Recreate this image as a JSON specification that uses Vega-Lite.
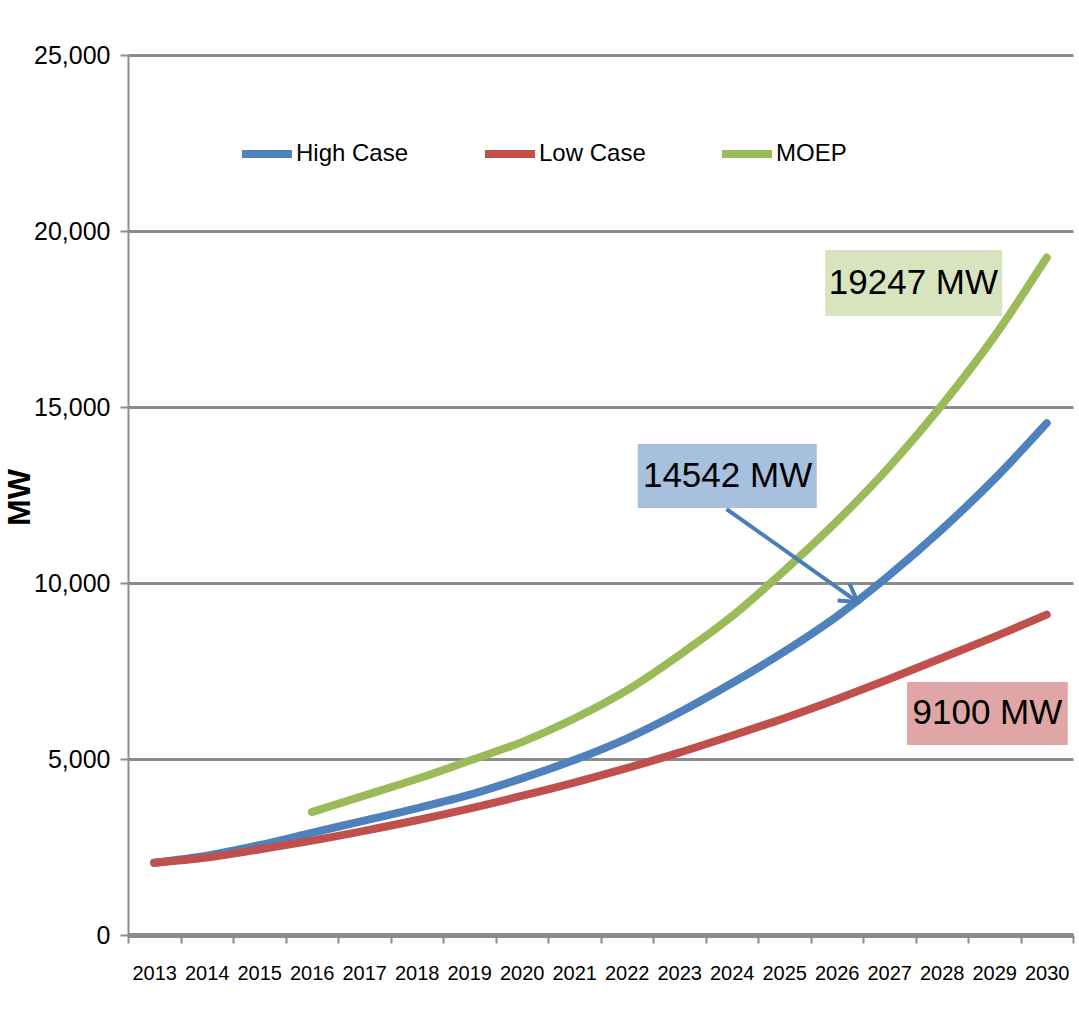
{
  "$schema": "https://vega.github.io/schema/vega-lite/v6.json",
  "width": 945,
  "height": 880,
  "autosize": {"type": "none"},
  "padding": {"left": 128, "top": 55, "right": 6, "bottom": 83},
  "background": "white",
  "config": {
    "view": {"stroke": null},
    "axis": {"domainColor": "#8c8c8c", "tickColor": "#8c8c8c", "gridColor": "#8c8c8c", "labelColor": "#000000"}
  },
  "datasets": {
    "series": [
      {"year": 2013, "series": "High Case", "value": 2050},
      {"year": 2014, "series": "High Case", "value": 2250},
      {"year": 2015, "series": "High Case", "value": 2550},
      {"year": 2016, "series": "High Case", "value": 2900},
      {"year": 2017, "series": "High Case", "value": 3250},
      {"year": 2018, "series": "High Case", "value": 3600},
      {"year": 2019, "series": "High Case", "value": 3980},
      {"year": 2020, "series": "High Case", "value": 4450},
      {"year": 2021, "series": "High Case", "value": 4970},
      {"year": 2022, "series": "High Case", "value": 5580},
      {"year": 2023, "series": "High Case", "value": 6320},
      {"year": 2024, "series": "High Case", "value": 7150},
      {"year": 2025, "series": "High Case", "value": 8050},
      {"year": 2026, "series": "High Case", "value": 9050},
      {"year": 2027, "series": "High Case", "value": 10220},
      {"year": 2028, "series": "High Case", "value": 11520},
      {"year": 2029, "series": "High Case", "value": 12950},
      {"year": 2030, "series": "High Case", "value": 14542},
      {"year": 2013, "series": "Low Case", "value": 2050},
      {"year": 2014, "series": "Low Case", "value": 2200},
      {"year": 2015, "series": "Low Case", "value": 2430},
      {"year": 2016, "series": "Low Case", "value": 2680},
      {"year": 2017, "series": "Low Case", "value": 2960},
      {"year": 2018, "series": "Low Case", "value": 3260},
      {"year": 2019, "series": "Low Case", "value": 3590},
      {"year": 2020, "series": "Low Case", "value": 3950},
      {"year": 2021, "series": "Low Case", "value": 4330},
      {"year": 2022, "series": "Low Case", "value": 4740},
      {"year": 2023, "series": "Low Case", "value": 5180},
      {"year": 2024, "series": "Low Case", "value": 5660},
      {"year": 2025, "series": "Low Case", "value": 6160},
      {"year": 2026, "series": "Low Case", "value": 6700},
      {"year": 2027, "series": "Low Case", "value": 7270},
      {"year": 2028, "series": "Low Case", "value": 7870},
      {"year": 2029, "series": "Low Case", "value": 8470},
      {"year": 2030, "series": "Low Case", "value": 9100},
      {"year": 2016, "series": "MOEP", "value": 3490},
      {"year": 2017, "series": "MOEP", "value": 3960},
      {"year": 2018, "series": "MOEP", "value": 4430},
      {"year": 2019, "series": "MOEP", "value": 4950},
      {"year": 2020, "series": "MOEP", "value": 5480},
      {"year": 2021, "series": "MOEP", "value": 6150},
      {"year": 2022, "series": "MOEP", "value": 6950},
      {"year": 2023, "series": "MOEP", "value": 7950},
      {"year": 2024, "series": "MOEP", "value": 9050},
      {"year": 2025, "series": "MOEP", "value": 10350},
      {"year": 2026, "series": "MOEP", "value": 11750},
      {"year": 2027, "series": "MOEP", "value": 13300},
      {"year": 2028, "series": "MOEP", "value": 15050},
      {"year": 2029, "series": "MOEP", "value": 17000},
      {"year": 2030, "series": "MOEP", "value": 19247}
    ],
    "notes": [
      {"series": "MOEP", "label": "19247 MW", "x1": 2025.78, "x2": 2029.15, "y1": 17585, "y2": 19460, "tx": 2027.46, "ty": 18520},
      {"series": "High Case", "label": "14542 MW", "x1": 2022.21, "x2": 2025.62, "y1": 12131, "y2": 13949, "tx": 2023.92, "ty": 13040},
      {"series": "Low Case", "label": "9100 MW", "x1": 2027.34, "x2": 2030.4, "y1": 5398, "y2": 7188, "tx": 2028.87, "ty": 6293}
    ],
    "arrow": [
      {"xs": 2023.9, "ys": 12102, "xe": 2026.4, "ye": 9460}
    ]
  },
  "layer": [
    {
      "data": {"name": "series"},
      "mark": {"type": "line", "strokeWidth": 8, "interpolate": "monotone", "strokeCap": "round"},
      "encoding": {
        "x": {
          "field": "year", "type": "quantitative",
          "scale": {"domain": [2012.5, 2030.5], "nice": false, "zero": false},
          "axis": {
            "values": [2012.5, 2013.5, 2014.5, 2015.5, 2016.5, 2017.5, 2018.5, 2019.5, 2020.5, 2021.5, 2022.5, 2023.5, 2024.5, 2025.5, 2026.5, 2027.5, 2028.5, 2029.5, 2030.5],
            "labelExpr": "datum.value > 2030 ? '' : format(datum.value + 0.5, 'd')",
            "labelOffset": 26.25,
            "labelOverlap": false,
            "labelBound": false,
            "labelFlush": false,
            "labelFont": "Liberation Sans, Arial, sans-serif",
            "labelFontSize": 20,
            "labelPadding": 20,
            "tickSize": 8,
            "tickWidth": 2,
            "domainWidth": 5,
            "grid": false,
            "title": null
          }
        },
        "y": {
          "field": "value", "type": "quantitative",
          "scale": {"domain": [0, 25000], "nice": false},
          "axis": {
            "values": [0, 5000, 10000, 15000, 20000, 25000],
            "format": ",d",
            "labelFont": "Liberation Sans, Arial, sans-serif",
            "labelFontSize": 25,
            "labelPadding": 10,
            "tickSize": 8,
            "tickWidth": 2,
            "domainWidth": 2,
            "gridWidth": 3,
            "title": "MW",
            "titleFont": "Liberation Sans, Arial, sans-serif",
            "titleFontWeight": "bold",
            "titleFontSize": 32,
            "titleColor": "#000000",
            "titleX": -92,
            "titleY": 442
          }
        },
        "color": {
          "field": "series", "type": "nominal",
          "scale": {"domain": ["High Case", "Low Case", "MOEP"], "range": ["#4F81BD", "#C0504D", "#9BBB59"]},
          "legend": {
            "title": null,
            "orient": "none",
            "direction": "horizontal",
            "legendX": 110,
            "legendY": 70,
            "padding": 0,
            "symbolType": "stroke",
            "symbolSize": 2500,
            "symbolStrokeWidth": 8,
            "labelFont": "Liberation Sans, Arial, sans-serif",
            "labelFontSize": 24,
            "labelColor": "#000000",
            "labelOffset": 0,
            "labelLimit": 300,
            "columnPadding": 60
          }
        }
      }
    },
    {
      "data": {"name": "notes"},
      "mark": {"type": "rect"},
      "encoding": {
        "x": {"field": "x1", "type": "quantitative"},
        "x2": {"field": "x2"},
        "y": {"field": "y1", "type": "quantitative"},
        "y2": {"field": "y2"},
        "fill": {
          "field": "series", "type": "nominal",
          "scale": {"domain": ["High Case", "Low Case", "MOEP"], "range": ["#A7C0DE", "#DFA6A5", "#D7E4BD"]},
          "legend": null
        }
      }
    },
    {
      "data": {"name": "notes"},
      "mark": {"type": "text", "font": "Liberation Sans, Arial, sans-serif", "fontSize": 35, "align": "center", "baseline": "middle", "color": "#000000"},
      "encoding": {
        "x": {"field": "tx", "type": "quantitative"},
        "y": {"field": "ty", "type": "quantitative"},
        "text": {"field": "label"}
      }
    },
    {
      "data": {"name": "arrow"},
      "mark": {"type": "rule", "strokeWidth": 4, "color": "#4A7EBB"},
      "encoding": {
        "x": {"field": "xs", "type": "quantitative"},
        "x2": {"field": "xe"},
        "y": {"field": "ys", "type": "quantitative"},
        "y2": {"field": "ye"}
      }
    },
    {
      "data": {"name": "arrow"},
      "mark": {"type": "point", "shape": "M-1,-0.6L0,0L-1,0.6", "filled": false, "stroke": "#4A7EBB", "strokeWidth": 4, "size": 1200, "angle": 35, "opacity": 1},
      "encoding": {
        "x": {"field": "xe", "type": "quantitative"},
        "y": {"field": "ye", "type": "quantitative"}
      }
    }
  ]
}
